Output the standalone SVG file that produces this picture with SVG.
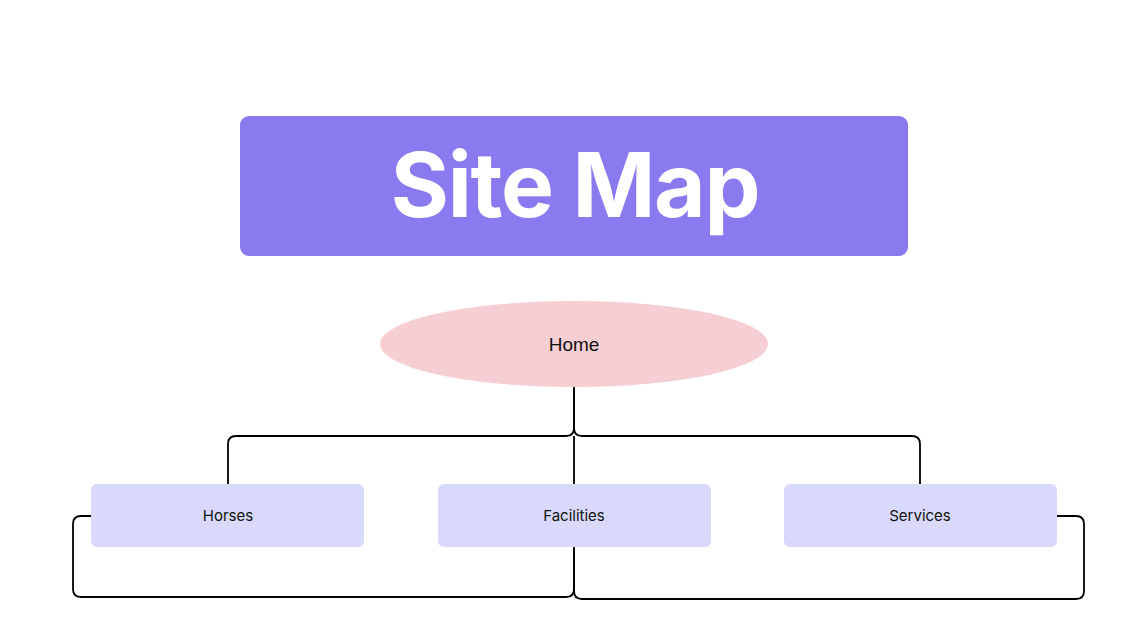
<svg xmlns="http://www.w3.org/2000/svg" width="1137" height="634" viewBox="0 0 1137 634">
<style>
.box{fill:#d8d9fb}
.lbl{font-family:Inter,"Liberation Sans",sans-serif;font-size:15px;fill:#111;text-anchor:middle}
.conn{fill:none;stroke:#000;stroke-width:1.8;stroke-linejoin:round}
</style>
<rect width="1137" height="634" fill="#fff"/>
<g id="title">
<rect x="240" y="116" width="668" height="140" rx="9" fill="#8a7af0"/>
<text x="575" y="217" font-family="Inter,'Liberation Sans',sans-serif" font-size="89" font-weight="700" fill="#fff" text-anchor="middle" letter-spacing="-1.3">Site Map</text>
</g>
<g id="connectors">
<path class="conn" d="M574 387 V428 Q574 436 566 436 H236 Q228 436 228 444 V484"/>
<path class="conn" d="M574 387 V428 Q574 436 582 436 H912 Q920 436 920 444 V484"/>
<path class="conn" d="M574 436 V484" stroke-width="1.4"/>
<path class="conn" d="M91 516 H81 Q73 516 73 524 V589 Q73 597 81 597 H566 Q574 597 574 589 V547"/>
<path class="conn" d="M574 547 V591 Q574 599 582 599 H1076 Q1084 599 1084 591 V524 Q1084 516 1076 516 H1057"/>
</g>
<g id="home">
<ellipse cx="574" cy="344" rx="194" ry="43" fill="#f6cfd4"/>
<text x="574" y="351" font-family="'Liberation Sans',Arial,sans-serif" font-size="19" fill="#111" text-anchor="middle">Home</text>
</g>
<g id="horses">
<rect class="box" x="91" y="484" width="273" height="63" rx="6"/>
<text class="lbl" x="228" y="521">Horses</text>
</g>
<g id="facilities">
<rect class="box" x="438" y="484" width="273" height="63" rx="6"/>
<text class="lbl" x="574" y="521">Facilities</text>
</g>
<g id="services">
<rect class="box" x="784" y="484" width="273" height="63" rx="6"/>
<text class="lbl" x="920" y="521">Services</text>
</g>
</svg>
